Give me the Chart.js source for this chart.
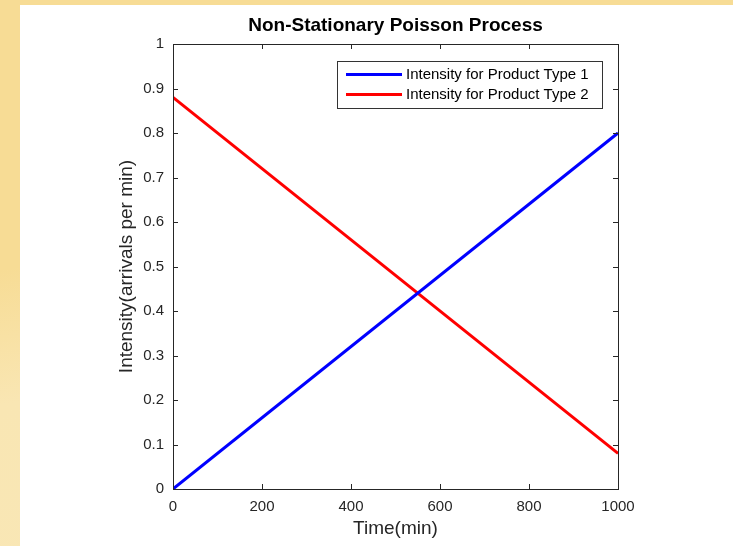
<!DOCTYPE html>
<html>
<head>
<meta charset="utf-8">
<script src="https://cdn.jsdelivr.net/npm/chart.js@4/dist/chart.umd.min.js"></script>
<style>
  html,body{ margin:0; padding:0; }
  body{ width:733px; height:546px; overflow:hidden;
        background:linear-gradient(170deg,#f7dc95 0%,#f7dc95 40%,#f9e6b3 60%,#f9e7b6 100%); position:relative; }
  .panel{ position:absolute; left:20px; top:5px; right:0; bottom:0; background:#fff; }
  canvas{ position:absolute; left:0; top:0; }
</style>
</head>
<body>
<div class="panel"></div>
<canvas id="c" width="733" height="546"></canvas>
<script>
// ---- data ----
const timeMin   = [0, 1000];
const type1     = [0, 0.8];
const type2     = [0.88, 0.08];
const seriesLabels = ['Intensity for Product Type 1', 'Intensity for Product Type 2'];
const titleText = 'Non-Stationary Poisson Process';
const xTitle = 'Time(min)';
const yTitle = 'Intensity(arrivals per min)';

const AX = '#262626';
const FONT = 'Liberation Sans, Arial, Helvetica, sans-serif';

const pts = (ys) => timeMin.map((t,i)=>({x:t, y:ys[i]}));

// box + inward ticks like matlab
const boxPlugin = {
  id:'box',
  afterDraw(chart){
    const {ctx, chartArea:a, scales:{x, y}} = chart;
    ctx.save();
    ctx.strokeStyle = AX; ctx.lineWidth = 1;
    ctx.strokeRect(a.left+0.5, a.top+0.5, a.right-a.left, a.bottom-a.top);
    ctx.beginPath();
    x.ticks.forEach(t=>{
      const px = Math.round(x.getPixelForValue(t.value))+0.5;
      ctx.moveTo(px, a.bottom); ctx.lineTo(px, a.bottom-5);
      ctx.moveTo(px, a.top); ctx.lineTo(px, a.top+5);
    });
    y.ticks.forEach(t=>{
      const py = Math.round(y.getPixelForValue(t.value))+0.5;
      ctx.moveTo(a.left, py); ctx.lineTo(a.left+5, py);
      ctx.moveTo(a.right, py); ctx.lineTo(a.right-5, py);
    });
    ctx.stroke();
    // title
    ctx.fillStyle = '#000';
    ctx.font = 'bold 19px ' + FONT;
    ctx.textAlign = 'center'; ctx.textBaseline = 'middle';
    ctx.fillText(titleText, (a.left+a.right)/2, a.top-18);
    ctx.restore();
  }
};

// legend box in the upper right of the axes
const legendPlugin = {
  id:'boxLegend',
  afterDraw(chart){
    const {ctx} = chart;
    const L = 337, T = 61, W = 265, H = 47;
    ctx.save();
    ctx.fillStyle = '#fff';
    ctx.fillRect(L, T, W, H);
    ctx.strokeStyle = '#333'; ctx.lineWidth = 1;
    ctx.strokeRect(L+0.5, T+0.5, W, H);
    ctx.font = '15px ' + FONT;
    ctx.textBaseline = 'middle'; ctx.textAlign = 'left';
    chart.data.datasets.forEach((ds,i)=>{
      const yy = T + 13.5 + i*20;
      ctx.strokeStyle = ds.borderColor; ctx.lineWidth = 3;
      ctx.beginPath(); ctx.moveTo(L+9, yy); ctx.lineTo(L+65, yy); ctx.stroke();
      ctx.fillStyle = '#000';
      ctx.fillText(ds.label, L+69, yy+0.5);
    });
    ctx.restore();
  }
};

new Chart(document.getElementById('c'), {
  type:'line',
  data:{
    datasets:[
      { label: seriesLabels[0], data: pts(type1), borderColor:'#0000ff', backgroundColor:'#0000ff',
        borderWidth:3, pointRadius:0, tension:0, fill:false },
      { label: seriesLabels[1], data: pts(type2), borderColor:'#ff0000', backgroundColor:'#ff0000',
        borderWidth:3, pointRadius:0, tension:0, fill:false }
    ]
  },
  options:{
    responsive:false, animation:false,
    layout:{ padding:{ left:115, top:44, right:115, bottom:0 } },
    plugins:{ legend:{display:false}, tooltip:{enabled:false} },
    scales:{
      x:{
        type:'linear', min:0, max:1000,
        grid:{ display:false, drawTicks:false }, border:{ display:false },
        ticks:{ stepSize:200, color:AX, font:{family:FONT, size:15}, padding:9, maxRotation:0,
                callback:(v)=> String(v) },
        title:{ display:true, text:xTitle, color:AX, font:{family:FONT, size:19}, padding:{top:0, bottom:6} },
        afterFit(s){ s.height = 57; }
      },
      y:{
        min:0, max:1,
        grid:{ display:false, drawTicks:false }, border:{ display:false },
        ticks:{ stepSize:0.1, color:AX, font:{family:FONT, size:15}, padding:9,
                callback:(v)=> String(Math.round(v*10)/10) },
        title:{ display:true, text:yTitle, color:AX, font:{family:FONT, size:19}, padding:0 },
        afterFit(s){ s.width = 58; }
      }
    }
  },
  plugins:[boxPlugin, legendPlugin]
});
</script>
</body>
</html>
